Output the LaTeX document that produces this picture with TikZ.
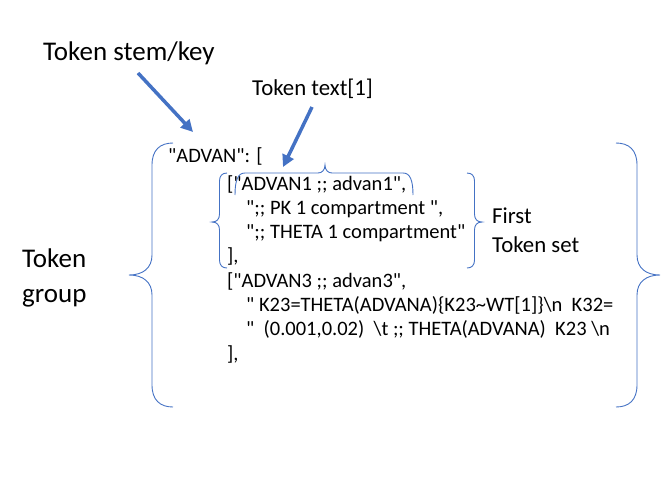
\documentclass[tikz,border=0pt]{standalone}
\usepackage{fontspec}
\setmainfont{Carlito}[Ligatures=TeXOff]
\usetikzlibrary{arrows.meta}
\definecolor{officeblue}{HTML}{4472C4}
\tikzset{
  codeline/.style={anchor=base west, inner sep=0pt, font=\fontsize{20.5}{24}\selectfont},
  label/.style={anchor=base west, inner sep=0pt, font=\fontsize{22.8}{27}\selectfont},
  biglabel/.style={anchor=base west, inner sep=0pt, font=\fontsize{27}{32}\selectfont},
  bigarrow/.style={draw=officeblue, line width=3.5pt, -{Triangle[length=12pt,width=12pt]}},
  bracepath/.style={draw=officeblue, line width=0.9pt},
}
\begin{document}
\begin{tikzpicture}[x=1pt,y=-1pt]
\useasboundingbox (0,0) rectangle (672,480);
% labels
\node[biglabel] (stem) at (43,60) {Token stem/key};
\node[label] (ttext) at (252,95) {Token text[1]};
\node[biglabel] (grp1) at (22,267) {Token};
\node[biglabel] (grp2) at (22,302) {group};
\node[label] (first1) at (492,223) {First};
\node[label] (first2) at (492,252) {Token set};
% code lines
\node[codeline] (l1) at (168,162) {"ADVAN": [};
\node[codeline] (l2) at (227,190) {["ADVAN1 ;; advan1",};
\node[codeline] (l3) at (246,214) {";; PK 1 compartment ",};
\node[codeline] (l4) at (246,238) {";; THETA 1 compartment"};
\node[codeline] (l5) at (227,262) {],};
\node[codeline] (l6) at (227,287) {["ADVAN3 ;; advan3",};
\node[codeline] (l7) at (246,311) {" K23=THETA(ADVANA)\{K23\char`\~WT[1]\}\textbackslash n\ \ K32=};
\node[codeline] (l8) at (246,335) {"\ \ (0.001,0.02)\ \ \textbackslash t ;; THETA(ADVANA)\ \ K23 \textbackslash n};
\node[codeline] (l9) at (227,360) {],};
% arrows
\coordinate (stemtail) at (138,73);
\coordinate (stemtip) at (193,132);
\coordinate (texttail) at (312,107);
\coordinate (texttip) at (283,167);
\draw[bigarrow] (stemtail) -- (stemtip);
\draw[bigarrow] (texttail) -- (texttip);
% big left brace
\draw[bracepath] (173,143) .. controls (160,143) and (152,150) .. (152,165)
  -- (152,255) .. controls (152,268) and (143,275) .. (129,275)
  .. controls (143,275) and (152,282) .. (152,295)
  -- (152,385) .. controls (152,400) and (160,407) .. (173,407);
% big right brace
\draw[bracepath] (616,143) .. controls (629,143) and (637,150) .. (637,165)
  -- (637,255) .. controls (637,268) and (646,275) .. (660,275)
  .. controls (646,275) and (637,282) .. (637,295)
  -- (637,385) .. controls (637,400) and (629,407) .. (616,407);
% small left brace
\draw[bracepath] (227,173) .. controls (222,173) and (219.5,176) .. (219.5,181)
  -- (219.5,214) .. controls (219.5,219) and (217,222) .. (212,222)
  .. controls (217,222) and (219.5,225) .. (219.5,230)
  -- (219.5,260) .. controls (219.5,265) and (222,268) .. (227,268);
% small right brace
\draw[bracepath] (467,173) .. controls (472,173) and (474.5,176) .. (474.5,181)
  -- (474.5,214) .. controls (474.5,219) and (477,222) .. (482,222)
  .. controls (477,222) and (474.5,225) .. (474.5,230)
  -- (474.5,260) .. controls (474.5,265) and (472,268) .. (467,268);
% top brace over ADVAN1
\draw[bracepath] (235,195) .. controls (235,180) and (238,173) .. (245,173)
  -- (318,173) .. controls (322,173) and (325,170) .. (325,165)
  .. controls (325,170) and (328,173) .. (332,173)
  -- (403,173) .. controls (410,173) and (413,180) .. (413,195);
\end{tikzpicture}
\end{document}
